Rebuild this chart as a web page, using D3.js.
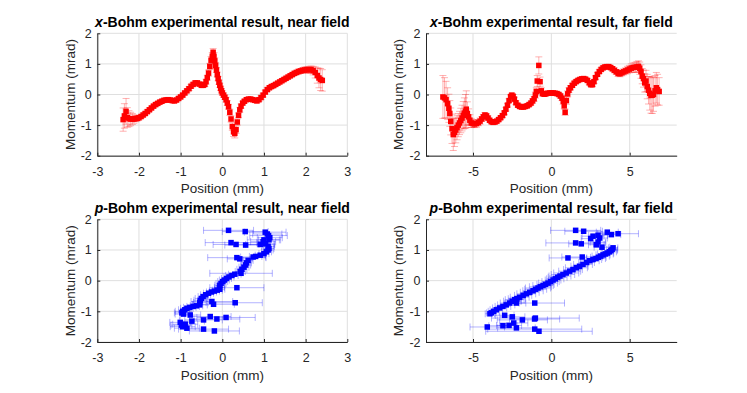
<!DOCTYPE html>
<html>
<head>
<meta charset="utf-8">
<script src="https://cdn.jsdelivr.net/npm/d3@7"></script>
<style>
  body { margin: 0; background: #fff; }
  text { font-family: "Liberation Sans", Arial, sans-serif; }
</style>
</head>
<body>
<div id="chart"></div>
<script>
// ticks
const xTicksNear = [-3, -2, -1, 0, 1, 2, 3];
const xTicksFar = [-5, 0, 5];
const yTicks = [-2, -1, 0, 1, 2];

// x-Bohm, near field: [position, momentum, momentum error]
const xBohmNear = [
  [-2.38,-0.82,0.38],[-2.35,-0.70,0.40],[-2.31,-0.55,0.42],[-2.28,-0.75,0.32],[-2.24,-0.79,0.26],
  [-2.20,-0.80,0.22],[-2.16,-0.80,0.18],[-2.12,-0.80,0.14],[-2.08,-0.79,0.10],[-2.04,-0.78,0.08],
  [-2.00,-0.76,0.07],[-1.95,-0.72,0.06],[-1.90,-0.67,0.06],[-1.85,-0.62,0.06],[-1.80,-0.56,0.06],
  [-1.75,-0.50,0.06],[-1.70,-0.44,0.06],[-1.65,-0.38,0.06],[-1.60,-0.33,0.06],[-1.55,-0.29,0.06],
  [-1.50,-0.25,0.06],[-1.45,-0.22,0.06],[-1.40,-0.19,0.06],[-1.35,-0.18,0.06],[-1.30,-0.17,0.06],
  [-1.25,-0.18,0.06],[-1.20,-0.20,0.06],[-1.15,-0.21,0.06],[-1.10,-0.18,0.06],[-1.05,-0.13,0.06],
  [-1.00,-0.08,0.06],[-0.95,-0.02,0.06],[-0.90,0.05,0.06],[-0.85,0.12,0.06],[-0.80,0.19,0.06],
  [-0.75,0.27,0.06],[-0.70,0.33,0.06],[-0.65,0.38,0.06],[-0.60,0.38,0.06],[-0.55,0.34,0.06],
  [-0.50,0.30,0.06],[-0.46,0.30,0.07],[-0.42,0.33,0.07],[-0.39,0.42,0.08],[-0.36,0.55,0.08],
  [-0.33,0.70,0.10],[-0.30,0.92,0.10],[-0.27,1.12,0.12],[-0.24,1.25,0.12],[-0.22,1.38,0.12],
  [-0.20,1.25,0.12],[-0.18,1.10,0.10],[-0.16,0.95,0.10],[-0.14,0.80,0.08],[-0.12,0.65,0.08],
  [-0.10,0.52,0.07],[-0.08,0.40,0.07],[-0.06,0.30,0.07],[-0.04,0.20,0.07],[-0.02,0.12,0.07],
  [0.00,0.05,0.07],[0.03,-0.02,0.07],[0.06,-0.09,0.07],[0.09,-0.17,0.08],[0.12,-0.28,0.08],
  [0.15,-0.40,0.08],[0.18,-0.58,0.10],[0.21,-0.80,0.10],[0.24,-1.05,0.12],[0.27,-1.22,0.15],
  [0.30,-1.27,0.15],[0.33,-1.15,0.12],[0.36,-0.90,0.10],[0.39,-0.68,0.08],[0.42,-0.50,0.08],
  [0.45,-0.38,0.07],[0.49,-0.28,0.06],[0.53,-0.22,0.06],[0.58,-0.17,0.06],[0.63,-0.15,0.06],
  [0.68,-0.15,0.06],[0.73,-0.17,0.06],[0.78,-0.19,0.06],[0.83,-0.21,0.06],[0.88,-0.17,0.06],
  [0.93,-0.10,0.06],[0.98,-0.02,0.06],[1.03,0.08,0.06],[1.08,0.16,0.06],[1.13,0.22,0.06],
  [1.18,0.26,0.06],[1.23,0.29,0.06],[1.28,0.33,0.06],[1.33,0.37,0.06],[1.38,0.41,0.06],
  [1.43,0.45,0.06],[1.48,0.49,0.06],[1.53,0.53,0.06],[1.58,0.57,0.06],[1.63,0.61,0.06],
  [1.68,0.65,0.06],[1.73,0.69,0.07],[1.78,0.72,0.07],[1.83,0.75,0.08],[1.88,0.77,0.08],
  [1.93,0.79,0.09],[1.98,0.80,0.10],[2.03,0.81,0.10],[2.08,0.81,0.11],[2.13,0.81,0.12],
  [2.18,0.78,0.14],[2.23,0.72,0.18],[2.28,0.62,0.25],[2.32,0.54,0.32],[2.36,0.49,0.36],
  [2.40,0.46,0.35]
];

// x-Bohm, far field
const xBohmFar = [
  [-6.92,-0.08,0.70],[-6.82,-0.11,0.66],[-6.72,-0.17,0.60],[-6.62,-0.30,0.52],[-6.54,-0.45,0.46],
  [-6.48,-0.62,0.42],[-6.42,-0.88,0.44],[-6.34,-1.12,0.48],[-6.26,-1.31,0.52],[-6.18,-1.24,0.46],
  [-6.10,-1.16,0.42],[-6.02,-1.08,0.40],[-5.94,-1.00,0.38],[-5.86,-0.93,0.38],[-5.78,-0.85,0.40],
  [-5.70,-0.77,0.42],[-5.62,-0.68,0.45],[-5.55,-0.61,0.50],[-5.48,-0.55,0.55],[-5.43,-0.48,0.60],
  [-5.36,-0.62,0.38],[-5.28,-0.73,0.26],[-5.20,-0.84,0.18],[-5.11,-0.93,0.15],[-5.00,-0.95,0.13],
  [-4.90,-0.96,0.12],[-4.78,-0.95,0.12],[-4.66,-0.92,0.10],[-4.55,-0.87,0.10],[-4.44,-0.80,0.08],
  [-4.34,-0.73,0.08],[-4.24,-0.67,0.08],[-4.14,-0.70,0.07],[-4.04,-0.77,0.07],[-3.94,-0.84,0.06],
  [-3.83,-0.89,0.06],[-3.72,-0.91,0.06],[-3.60,-0.90,0.06],[-3.48,-0.87,0.06],[-3.36,-0.82,0.06],
  [-3.24,-0.76,0.06],[-3.12,-0.69,0.06],[-3.00,-0.60,0.06],[-2.90,-0.48,0.06],[-2.80,-0.35,0.06],
  [-2.70,-0.20,0.06],[-2.60,-0.07,0.06],[-2.52,-0.02,0.06],[-2.44,-0.06,0.06],[-2.36,-0.15,0.06],
  [-2.26,-0.27,0.06],[-2.14,-0.35,0.06],[-2.02,-0.39,0.06],[-1.90,-0.41,0.06],[-1.78,-0.41,0.06],
  [-1.66,-0.39,0.06],[-1.54,-0.37,0.06],[-1.42,-0.33,0.06],[-1.30,-0.28,0.06],[-1.20,-0.21,0.07],
  [-1.10,-0.14,0.08],[-1.02,-0.02,0.10],[-0.96,0.10,0.12],[-0.90,0.44,0.18],[-0.80,0.95,0.28],
  [-0.72,0.42,0.15],[-0.64,0.12,0.10],[-0.56,0.03,0.08],[-0.46,0.01,0.06],[-0.36,0.02,0.06],
  [-0.24,0.04,0.06],[-0.12,0.05,0.06],[0.00,0.05,0.06],[0.12,0.05,0.06],[0.24,0.04,0.06],
  [0.36,0.03,0.06],[0.48,0.00,0.06],[0.58,-0.05,0.07],[0.68,-0.12,0.08],[0.76,-0.22,0.10],
  [0.82,-0.37,0.10],[0.88,-0.58,0.10],[0.96,-0.20,0.12],[1.04,0.02,0.10],[1.12,0.14,0.08],
  [1.22,0.22,0.07],[1.34,0.30,0.06],[1.46,0.37,0.06],[1.58,0.42,0.06],[1.70,0.46,0.06],
  [1.82,0.49,0.06],[1.94,0.51,0.06],[2.06,0.52,0.06],[2.18,0.50,0.06],[2.30,0.46,0.06],
  [2.42,0.38,0.06],[2.52,0.32,0.06],[2.62,0.32,0.06],[2.72,0.42,0.06],[2.82,0.55,0.06],
  [2.94,0.66,0.06],[3.06,0.75,0.06],[3.18,0.82,0.06],[3.30,0.87,0.06],[3.42,0.90,0.06],
  [3.54,0.91,0.06],[3.66,0.91,0.06],[3.78,0.88,0.06],[3.90,0.84,0.07],[4.02,0.79,0.08],
  [4.14,0.74,0.08],[4.26,0.69,0.10],[4.38,0.68,0.10],[4.50,0.71,0.10],[4.62,0.74,0.10],
  [4.74,0.77,0.10],[4.86,0.80,0.12],[4.98,0.83,0.12],[5.10,0.86,0.14],[5.22,0.88,0.15],
  [5.34,0.89,0.16],[5.46,0.90,0.18],[5.56,0.92,0.18],[5.64,0.86,0.20],[5.72,0.75,0.22],
  [5.80,0.60,0.25],[5.88,0.52,0.28],[5.96,0.38,0.30],[6.04,0.44,0.35],[6.12,0.26,0.40],
  [6.20,0.14,0.45],[6.28,0.04,0.55],[6.36,-0.03,0.58],[6.44,-0.02,0.60],[6.52,0.00,0.55],
  [6.62,0.12,0.50],[6.70,0.22,0.50],[6.78,0.16,0.50],[6.88,0.10,0.45]
];

// p-Bohm, near field: [position, momentum, position error]
const pBohmNear = [
  [0.15,1.64,0.60],[0.55,1.60,0.55],[1.03,1.58,0.50],[1.08,1.52,0.35],[1.11,1.47,0.45],
  [1.14,1.40,0.30],[1.12,1.33,0.25],[1.00,1.33,0.40],[0.21,1.24,0.62],[0.33,1.18,0.55],
  [0.56,1.16,0.50],[0.91,1.18,0.35],[0.98,1.27,0.30],[1.04,1.20,0.20],[1.10,1.12,0.15],
  [1.12,1.05,0.12],[1.10,1.00,0.12],[1.06,0.94,0.12],[1.00,0.88,0.12],[0.91,0.83,0.12],
  [0.80,0.79,0.15],[0.74,0.77,0.30],[0.35,0.75,0.70],[0.42,0.71,0.30],[0.62,0.66,0.12],
  [0.58,0.58,0.12],[0.56,0.51,0.12],[0.52,0.44,0.12],[0.47,0.37,0.12],[0.43,0.30,0.12],
  [0.45,0.24,0.75],[0.30,0.21,0.15],[0.23,0.17,0.15],[0.16,0.12,0.12],[0.10,0.07,0.12],
  [0.05,0.02,0.12],[0.01,-0.03,0.12],[-0.03,-0.09,0.12],[-0.06,-0.15,0.12],[-0.07,-0.22,0.12],
  [-0.06,-0.28,0.12],[0.35,-0.23,0.65],[-0.12,-0.31,0.12],[-0.19,-0.34,0.12],[-0.26,-0.37,0.12],
  [-0.33,-0.41,0.12],[-0.40,-0.46,0.12],[-0.46,-0.52,0.12],[-0.50,-0.58,0.15],[-0.53,-0.64,0.15],
  [-0.54,-0.71,0.15],[-0.54,-0.79,0.18],[-0.25,-0.68,0.50],[-0.21,-0.77,0.50],[0.31,-0.72,0.65],
  [-0.62,-0.82,0.15],[-0.70,-0.84,0.15],[-0.78,-0.87,0.15],[-0.85,-0.90,0.15],[-0.90,-0.95,0.15],
  [-0.95,-1.00,0.18],[-0.97,-1.05,0.18],[-0.93,-1.09,0.20],[-0.77,-1.12,0.25],[-0.29,-1.17,0.50],
  [-0.13,-1.25,0.55],[0.09,-1.20,0.70],[-0.45,-1.28,0.45],[-0.73,-1.32,0.30],[-1.01,-1.36,0.25],
  [-0.89,-1.42,0.30],[-0.98,-1.45,0.25],[-0.95,-1.50,0.30],[-0.85,-1.55,0.30],[-0.45,-1.58,0.60],
  [-0.19,-1.64,0.60]
];

// p-Bohm, far field
const pBohmFar = [
  [1.55,1.64,1.60],[2.06,1.61,1.20],[3.57,1.58,0.70],[3.83,1.50,0.60],[4.26,1.53,1.30],
  [2.98,1.48,0.60],[2.66,1.45,0.70],[3.09,1.39,0.50],[2.51,1.37,0.60],[2.98,1.26,0.50],
  [2.87,1.17,0.50],[1.55,1.23,1.90],[1.91,1.20,0.80],[3.23,1.09,0.50],[1.06,0.74,1.20],
  [1.97,0.77,1.30],
  [3.94,1.07,0.30],[3.88,1.02,0.35],[3.80,0.98,0.40],[3.70,0.94,0.45],[3.58,0.90,0.40],
  [3.45,0.87,0.50],[3.30,0.84,0.45],[3.15,0.80,0.55],[3.00,0.76,0.50],[2.85,0.72,0.60],
  [2.66,0.69,0.55],[2.45,0.65,0.60],[2.25,0.59,0.50],[2.02,0.53,0.60],[1.80,0.47,0.55],
  [1.60,0.42,0.70],[1.38,0.36,0.60],[1.17,0.31,0.70],[0.95,0.25,0.80],[0.74,0.20,0.75],
  [0.55,0.15,0.70],[0.40,0.11,0.60],[0.25,0.06,0.55],[0.11,0.02,0.50],[-0.05,-0.03,0.55],
  [-0.21,-0.08,0.60],[-0.37,-0.12,0.55],[-0.53,-0.16,0.65],[-0.70,-0.20,0.70],[-0.85,-0.24,0.80],
  [-1.00,-0.28,0.70],[-1.17,-0.33,0.65],[-1.38,-0.38,0.60],[-1.60,-0.43,0.60],[-1.80,-0.48,0.55],
  [-2.02,-0.54,0.60],[-2.20,-0.59,0.55],[-2.34,-0.62,0.60],[-2.50,-0.67,0.55],[-2.66,-0.73,0.60],
  [-2.88,-0.79,0.55],[-3.09,-0.84,0.50],[-3.30,-0.89,0.45],[-3.51,-0.95,0.40],[-3.68,-1.00,0.35],
  [-3.83,-1.05,0.30],[-3.92,-1.08,0.30],
  [-1.06,-0.73,1.90],[-2.23,-0.73,0.60],[-2.30,-0.66,0.40],[-2.98,-1.13,0.60],[-2.49,-1.18,0.80],
  [-1.85,-1.28,1.60],[-1.02,-1.22,2.80],[-1.07,-1.25,1.60],[-2.40,-1.38,0.90],[-2.70,-1.46,0.80],
  [-3.09,-1.47,0.90],[-2.23,-1.54,1.20],[-4.09,-1.51,1.10],[-1.06,-1.58,3.00],[-0.79,-1.65,3.40]
];

const W = 747, H = 393;
const svg = d3.select('#chart').append('svg')
  .attr('width', W)
  .attr('height', H);

const ink = '#262626';
const cap = 3.5;   // half cap size
const ms = 5.5;    // marker size

function panel(o) {
  const x = d3.scaleLinear().domain(o.xDomain).range([o.left, o.right]);
  const y = d3.scaleLinear().domain([-2, 2]).range([o.bottom, o.top]);
  const g = svg.append('g');

  // grid
  g.selectAll('.gx').data(o.xTicks).enter().append('line')
    .attr('x1', d => x(d)).attr('x2', d => x(d))
    .attr('y1', o.top).attr('y2', o.bottom)
    .attr('stroke', '#dfdfdf');
  g.selectAll('.gy').data(yTicks).enter().append('line')
    .attr('y1', d => y(d)).attr('y2', d => y(d))
    .attr('x1', o.left).attr('x2', o.right)
    .attr('stroke', '#dfdfdf');

  // error bars
  const eb = g.append('g')
    .attr('stroke', o.barColor)
    .attr('stroke-width', 1)
    .attr('fill', 'none');
  eb.selectAll('path').data(o.data).enter().append('path')
    .attr('d', function(d) {
      if (o.vertical) {
        const cx = x(d[0]), y0 = y(d[1] - d[2]), y1 = y(d[1] + d[2]);
        return `M${cx},${y0}V${y1}M${cx - cap},${y0}H${cx + cap}M${cx - cap},${y1}H${cx + cap}`;
      }
      const cy = y(d[1]), x0 = x(d[0] - d[2]), x1 = x(d[0] + d[2]);
      return `M${x0},${cy}H${x1}M${x0},${cy - cap}V${cy + cap}M${x1},${cy - cap}V${cy + cap}`;
    });

  // markers
  g.append('g').selectAll('rect').data(o.data).enter().append('rect')
    .attr('x', d => x(d[0]) - ms / 2)
    .attr('y', d => y(d[1]) - ms / 2)
    .attr('width', ms)
    .attr('height', ms)
    .attr('fill', o.color);

  // axes
  const ax = g.append('g')
    .attr('transform', `translate(0,${o.bottom})`)
    .call(d3.axisBottom(x).tickValues(o.xTicks).tickSize(-3).tickSizeOuter(0)
      .tickPadding(11).tickFormat(d => String(d)));
  const ay = g.append('g')
    .attr('transform', `translate(${o.left},0)`)
    .call(d3.axisLeft(y).tickValues(yTicks).tickSize(-3).tickSizeOuter(0)
      .tickPadding(5.5).tickFormat(d => String(d)));
  [ax, ay].forEach(a => {
    a.attr('font-family', null).attr('font-size', null);
    a.selectAll('path, line').attr('stroke', ink);
    a.selectAll('text').attr('fill', ink).style('font-size', '12.5px');
  });

  // labels
  g.append('text')
    .attr('x', (o.left + o.right) / 2)
    .attr('y', o.bottom + 37.5)
    .attr('text-anchor', 'middle')
    .attr('fill', ink)
    .style('font-size', '13.5px')
    .text('Position (mm)');
  g.append('text')
    .attr('transform', `translate(${o.left - 22.8},${(o.top + o.bottom) / 2}) rotate(-90)`)
    .attr('text-anchor', 'middle')
    .attr('fill', ink)
    .style('font-size', '13.5px')
    .text('Momentum (mrad)');

  const t = g.append('text')
    .attr('x', (o.left + o.right) / 2)
    .attr('y', o.top - 6.8)
    .attr('text-anchor', 'middle')
    .attr('fill', '#000')
    .style('font-size', '14px')
    .style('font-weight', 'bold');
  t.append('tspan').style('font-style', 'italic').text(o.letter);
  t.append('tspan').text(o.title);
}

panel({left: 97.3, right: 347.3, top: 33.3, bottom: 155.7,
  xDomain: [-3, 3], xTicks: xTicksNear, data: xBohmNear, vertical: true,
  color: '#ff0000', barColor: 'rgba(255,0,0,0.3)',
  letter: 'x', title: '-Bohm experimental result, near field'});
panel({left: 426, right: 676.7, top: 33.3, bottom: 155.7,
  xDomain: [-8, 8], xTicks: xTicksFar, data: xBohmFar, vertical: true,
  color: '#ff0000', barColor: 'rgba(255,0,0,0.3)',
  letter: 'x', title: '-Bohm experimental result, far field'});
panel({left: 97.3, right: 347.3, top: 219.3, bottom: 342,
  xDomain: [-3, 3], xTicks: xTicksNear, data: pBohmNear, vertical: false,
  color: '#0000ff', barColor: 'rgba(0,0,255,0.3)',
  letter: 'p', title: '-Bohm experimental result, near field'});
panel({left: 426, right: 676.7, top: 219.3, bottom: 342,
  xDomain: [-8, 8], xTicks: xTicksFar, data: pBohmFar, vertical: false,
  color: '#0000ff', barColor: 'rgba(0,0,255,0.3)',
  letter: 'p', title: '-Bohm experimental result, far field'});
</script>
</body>
</html>
